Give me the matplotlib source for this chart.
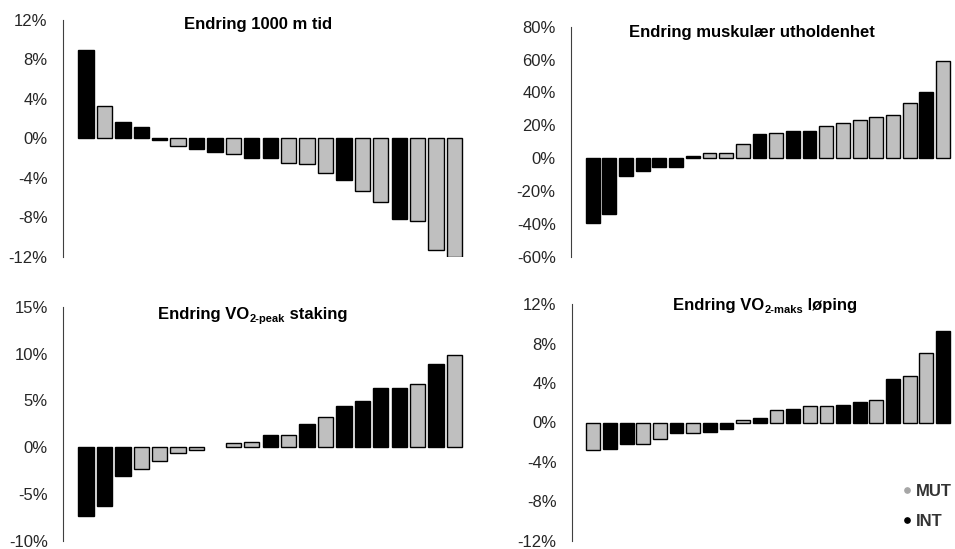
import numpy as np
import matplotlib
matplotlib.use("Agg")
import matplotlib.pyplot as plt
from matplotlib.lines import Line2D
from matplotlib.ticker import FuncFormatter, MultipleLocator
from matplotlib.transforms import IdentityTransform

plt.rcParams["font.family"] = ["Liberation Sans", "DejaVu Sans"]
plt.rcParams["axes.unicode_minus"] = False

FIG_W, FIG_H, DPI = 955, 549, 100
GROUP_COLORS = {"MUT": "#bfbfbf", "INT": "#000000"}
TEXT_COLOR = "#262626"

# change in 1000 m time (%)
tid_values = [9.0, 3.3, 1.7, 1.15, -0.2, -0.8, -1.1, -1.35, -1.6, -1.95, -2.0,
              -2.5, -2.6, -3.5, -4.25, -5.35, -6.4, -8.2, -8.4, -11.3, -12.0]
tid_groups = ["INT", "MUT", "INT", "INT", "INT", "MUT", "INT", "INT", "MUT", "INT", "INT",
              "MUT", "MUT", "MUT", "INT", "MUT", "MUT", "INT", "MUT", "MUT", "MUT"]

# change in muscular endurance (%)
musk_values = [-39.4, -34.0, -11.0, -7.6, -5.3, -5.1, 1.6, 3.3, 3.3, 8.6, 14.8,
               15.4, 16.4, 16.6, 19.5, 21.3, 23.0, 25.0, 26.5, 33.8, 40.0, 58.9]
musk_groups = ["INT", "INT", "INT", "INT", "INT", "INT", "INT", "MUT", "MUT", "MUT", "INT",
               "MUT", "INT", "INT", "MUT", "MUT", "MUT", "MUT", "MUT", "MUT", "INT", "MUT"]

# change in VO2-peak double poling (%), one missing value
staking_values = [-7.4, -6.3, -3.1, -2.3, -1.5, -0.65, -0.35, np.nan, 0.43, 0.6, 1.35,
                  1.35, 2.5, 3.25, 4.4, 4.9, 6.35, 6.35, 6.8, 8.85, 9.9]
staking_groups = ["INT", "INT", "INT", "MUT", "MUT", "MUT", "MUT", "MUT", "MUT", "MUT", "INT",
                  "MUT", "INT", "MUT", "INT", "INT", "INT", "INT", "MUT", "INT", "MUT"]

# change in VO2-max running (%)
loping_values = [-2.8, -2.65, -2.2, -2.15, -1.65, -1.1, -1.05, -1.0, -0.7, 0.3, 0.5,
                 1.25, 1.4, 1.65, 1.65, 1.75, 2.1, 2.3, 4.45, 4.7, 7.1, 9.3]
loping_groups = ["MUT", "INT", "INT", "MUT", "MUT", "INT", "MUT", "INT", "INT", "MUT", "INT",
                 "MUT", "INT", "MUT", "MUT", "INT", "INT", "MUT", "INT", "MUT", "MUT", "INT"]


def px_rect(left, top, right, bottom):
    return [left / FIG_W, 1 - bottom / FIG_H, (right - left) / FIG_W, (bottom - top) / FIG_H]


def waterfall(ax, values, groups, ylim, step, xlim):
    x = np.arange(len(values))
    colors = [GROUP_COLORS[g] for g in groups]
    ax.bar(x, values, width=0.83, color=colors, edgecolor="black", linewidth=1.0)
    ax.set_xlim(*xlim)
    ax.set_ylim(*ylim)
    ax.yaxis.set_major_locator(MultipleLocator(step))
    ax.yaxis.set_major_formatter(FuncFormatter(lambda v, _: f"{v:.0f}%"))
    ax.tick_params(axis="y", length=0, pad=11, labelsize=12, labelcolor=TEXT_COLOR)
    ax.set_xticks([])
    for side in ("top", "right", "bottom"):
        ax.spines[side].set_visible(False)
    ax.spines["left"].set_color("#404040")
    ax.spines["left"].set_linewidth(0.8)
    ax.patch.set_visible(False)


def rich_title(fig, parts, cx, baseline):
    # parts: (text, size, drop in px); centred on cx, baseline in px from top
    renderer = fig.canvas.get_renderer()
    items = []
    total = 0.0
    for text, size, drop in parts:
        t = fig.text(0, 0, text, fontsize=size, fontweight="bold", color="black",
                     ha="left", va="baseline", transform=IdentityTransform())
        w = t.get_window_extent(renderer).width
        items.append((t, total, drop))
        total += w
    x0 = cx - total / 2
    for t, off, drop in items:
        t.set_position((x0 + off, FIG_H - baseline - drop))


fig = plt.figure(figsize=(FIG_W / DPI, FIG_H / DPI), dpi=DPI)

ax1 = fig.add_axes(px_rect(63, 20, 471, 257))
waterfall(ax1, tid_values, tid_groups, (-12, 12), 4, (-1.25, 20.9))

ax2 = fig.add_axes(px_rect(571, 26.7, 953, 256.7))
waterfall(ax2, musk_values, musk_groups, (-60, 80), 20, (-1.3, 21.6))

ax3 = fig.add_axes(px_rect(63, 307, 471, 540.7))
waterfall(ax3, staking_values, staking_groups, (-10, 15), 5, (-1.25, 20.9))

ax4 = fig.add_axes(px_rect(572, 304.3, 953, 540.7))
waterfall(ax4, loping_values, loping_groups, (-12, 12), 4, (-1.28, 21.6))

rich_title(fig, [("Endring 1000 m tid", 12, 0)], 258, 29.3)
rich_title(fig, [("Endring muskulær utholdenhet", 12, 0)], 752, 37)
rich_title(fig, [("Endring VO", 12, 0), ("2-peak", 8, 3), (" staking", 12, 0)], 253, 319)
rich_title(fig, [("Endring VO", 12, 0), ("2-maks", 8, 3), (" løping", 12, 0)], 765, 310)

handles = [Line2D([], [], linestyle="none", marker="o", markersize=3.8,
                  markerfacecolor=c, markeredgecolor=c)
           for c in ("#a6a6a6", "#000000")]
fig.legend(handles, ["MUT", "INT"], loc="upper left",
           bbox_to_anchor=(903.4 / FIG_W, 1 - 484 / FIG_H), bbox_transform=fig.transFigure,
           frameon=False, prop={"size": 12, "weight": "bold"}, handlelength=0.4,
           handletextpad=0.35, labelspacing=0.88, borderpad=0, borderaxespad=0,
           labelcolor="#333333")

fig.savefig("out.png", dpi=DPI)
